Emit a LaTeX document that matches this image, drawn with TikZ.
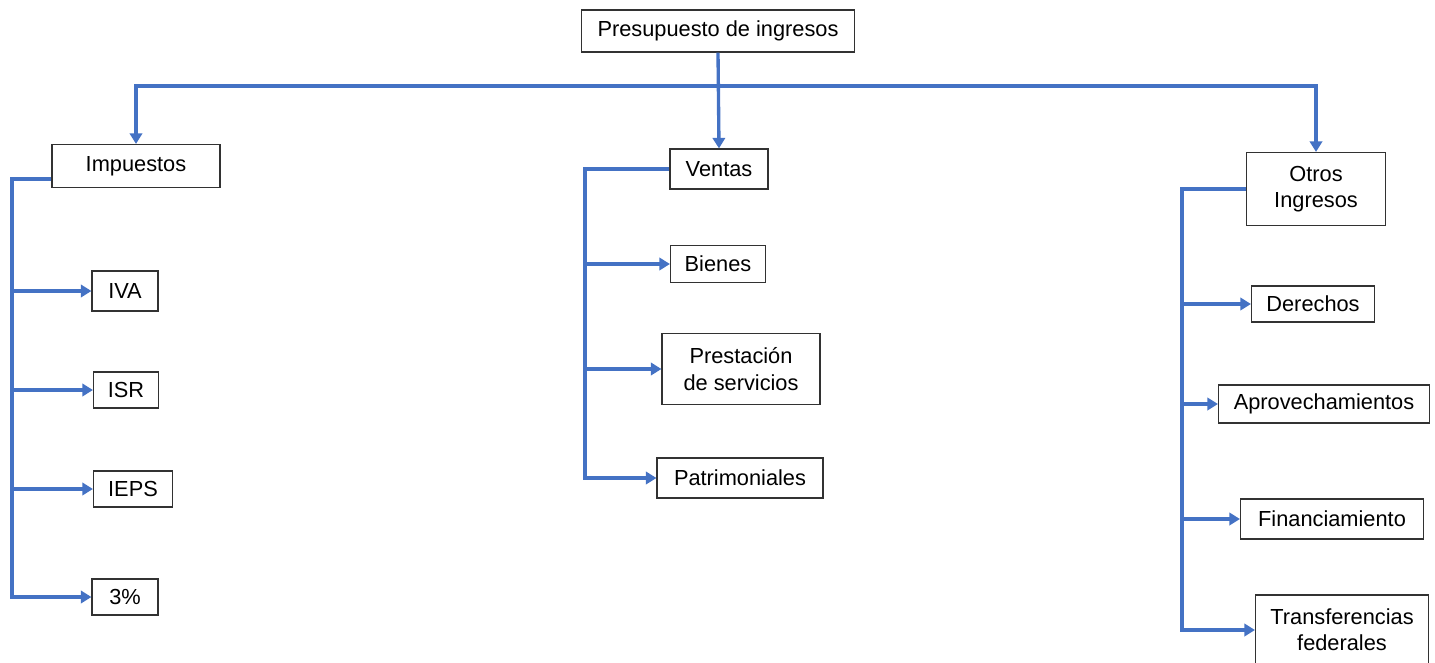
\documentclass[tikz,border=0pt]{standalone}
\usepackage{fontspec}
\setmainfont{Liberation Sans}
\usepackage{tikz}
\usetikzlibrary{calc}
\usetikzlibrary{arrows.meta}
\usetikzlibrary{positioning}
\definecolor{azulrama}{RGB}{68, 114, 196}
\definecolor{bordecaja}{RGB}{50, 50, 50}

\tikzset{
    caja/.style   = {draw=bordecaja, line width=0.65pt, fill=white, align=center, inner sep=2pt,
                     font=\fontsize{12.4}{15}\selectfont},
    linea/.style  = {draw=azulrama, line width=1.9pt},
    flecha/.style = {linea, -{Triangle[length=6pt, width=7pt]}}
}

\begin{document}
\begin{tikzpicture}[x=0.02cm, y=-0.02cm]
            % Frame to fix the page:
            \useasboundingbox                                              (   0,   0) rectangle (1435, 662);
            % Root and first level:
            \node[caja, minimum width=5.46cm, minimum height=0.84cm] (pres)   at ( 718,  31) {Presupuesto de ingresos};
            \node[caja, minimum width=3.36cm, minimum height=0.86cm] (imp)    at ( 136, 166) {Impuestos};
            \node[caja, minimum width=1.96cm, minimum height=0.80cm] (ventas) at ( 719, 169) {Ventas};
            \node[caja, minimum width=2.78cm, minimum height=1.46cm] (otros)  at (1316, 189) {Otros\\Ingresos};
            % Impuestos:
            \node[caja, minimum width=1.32cm, minimum height=0.80cm] (iva)    at ( 125, 291) {IVA};
            \node[caja, minimum width=1.30cm, minimum height=0.72cm] (isr)    at ( 126, 390) {ISR};
            \node[caja, minimum width=1.58cm, minimum height=0.72cm] (ieps)   at ( 133, 489) {IEPS};
            \node[caja, minimum width=1.32cm, minimum height=0.72cm] (tres)   at ( 125, 597) {3\%};
            % Ventas:
            \node[caja, minimum width=1.90cm, minimum height=0.74cm] (bienes) at ( 718, 264) {Bienes};
            \node[caja, minimum width=3.16cm, minimum height=1.42cm] (prest)  at ( 741, 369) {Prestación\\de servicios};
            \node[caja, minimum width=3.32cm, minimum height=0.80cm] (patri)  at ( 740, 478) {Patrimoniales};
            % Otros ingresos:
            \node[caja, minimum width=2.46cm, minimum height=0.72cm] (der)    at (1313, 304) {Derechos};
            \node[caja, minimum width=4.22cm, minimum height=0.76cm] (aprov)  at (1324, 404) {Aprovechamientos};
            \node[caja, minimum width=3.66cm, minimum height=0.80cm] (fin)    at (1332, 519) {Financiamiento};
            \node[caja, minimum width=3.46cm, minimum height=1.40cm] (trans)  at (1342, 630) {Transferencias\\federales};

            % Top bar:
            \coordinate (barra) at (718, 86);
            \draw[flecha] (pres.south) -- (ventas.north);
            \draw[flecha] (barra) -| (imp.north);
            \draw[flecha] (barra) -| (otros.north);

            % Left spine:
            \coordinate (eje1) at (12, 179);
            \draw[flecha] (imp.west |- eje1) -- (eje1) |- (tres.west);
            \foreach \n in {iva, isr, ieps}
                \draw[flecha] (eje1 |- \n.west) -- (\n.west);

            % Middle spine:
            \coordinate (eje2) at (585, 169);
            \draw[flecha] (ventas.west |- eje2) -- (eje2) |- (patri.west);
            \foreach \n in {bienes, prest}
                \draw[flecha] (eje2 |- \n.west) -- (\n.west);

            % Right spine:
            \coordinate (eje3) at (1182, 189);
            \draw[flecha] (otros.west |- eje3) -- (eje3) |- (trans.west);
            \foreach \n in {der, aprov, fin}
                \draw[flecha] (eje3 |- \n.west) -- (\n.west);
        \end{tikzpicture}
\end{document}
